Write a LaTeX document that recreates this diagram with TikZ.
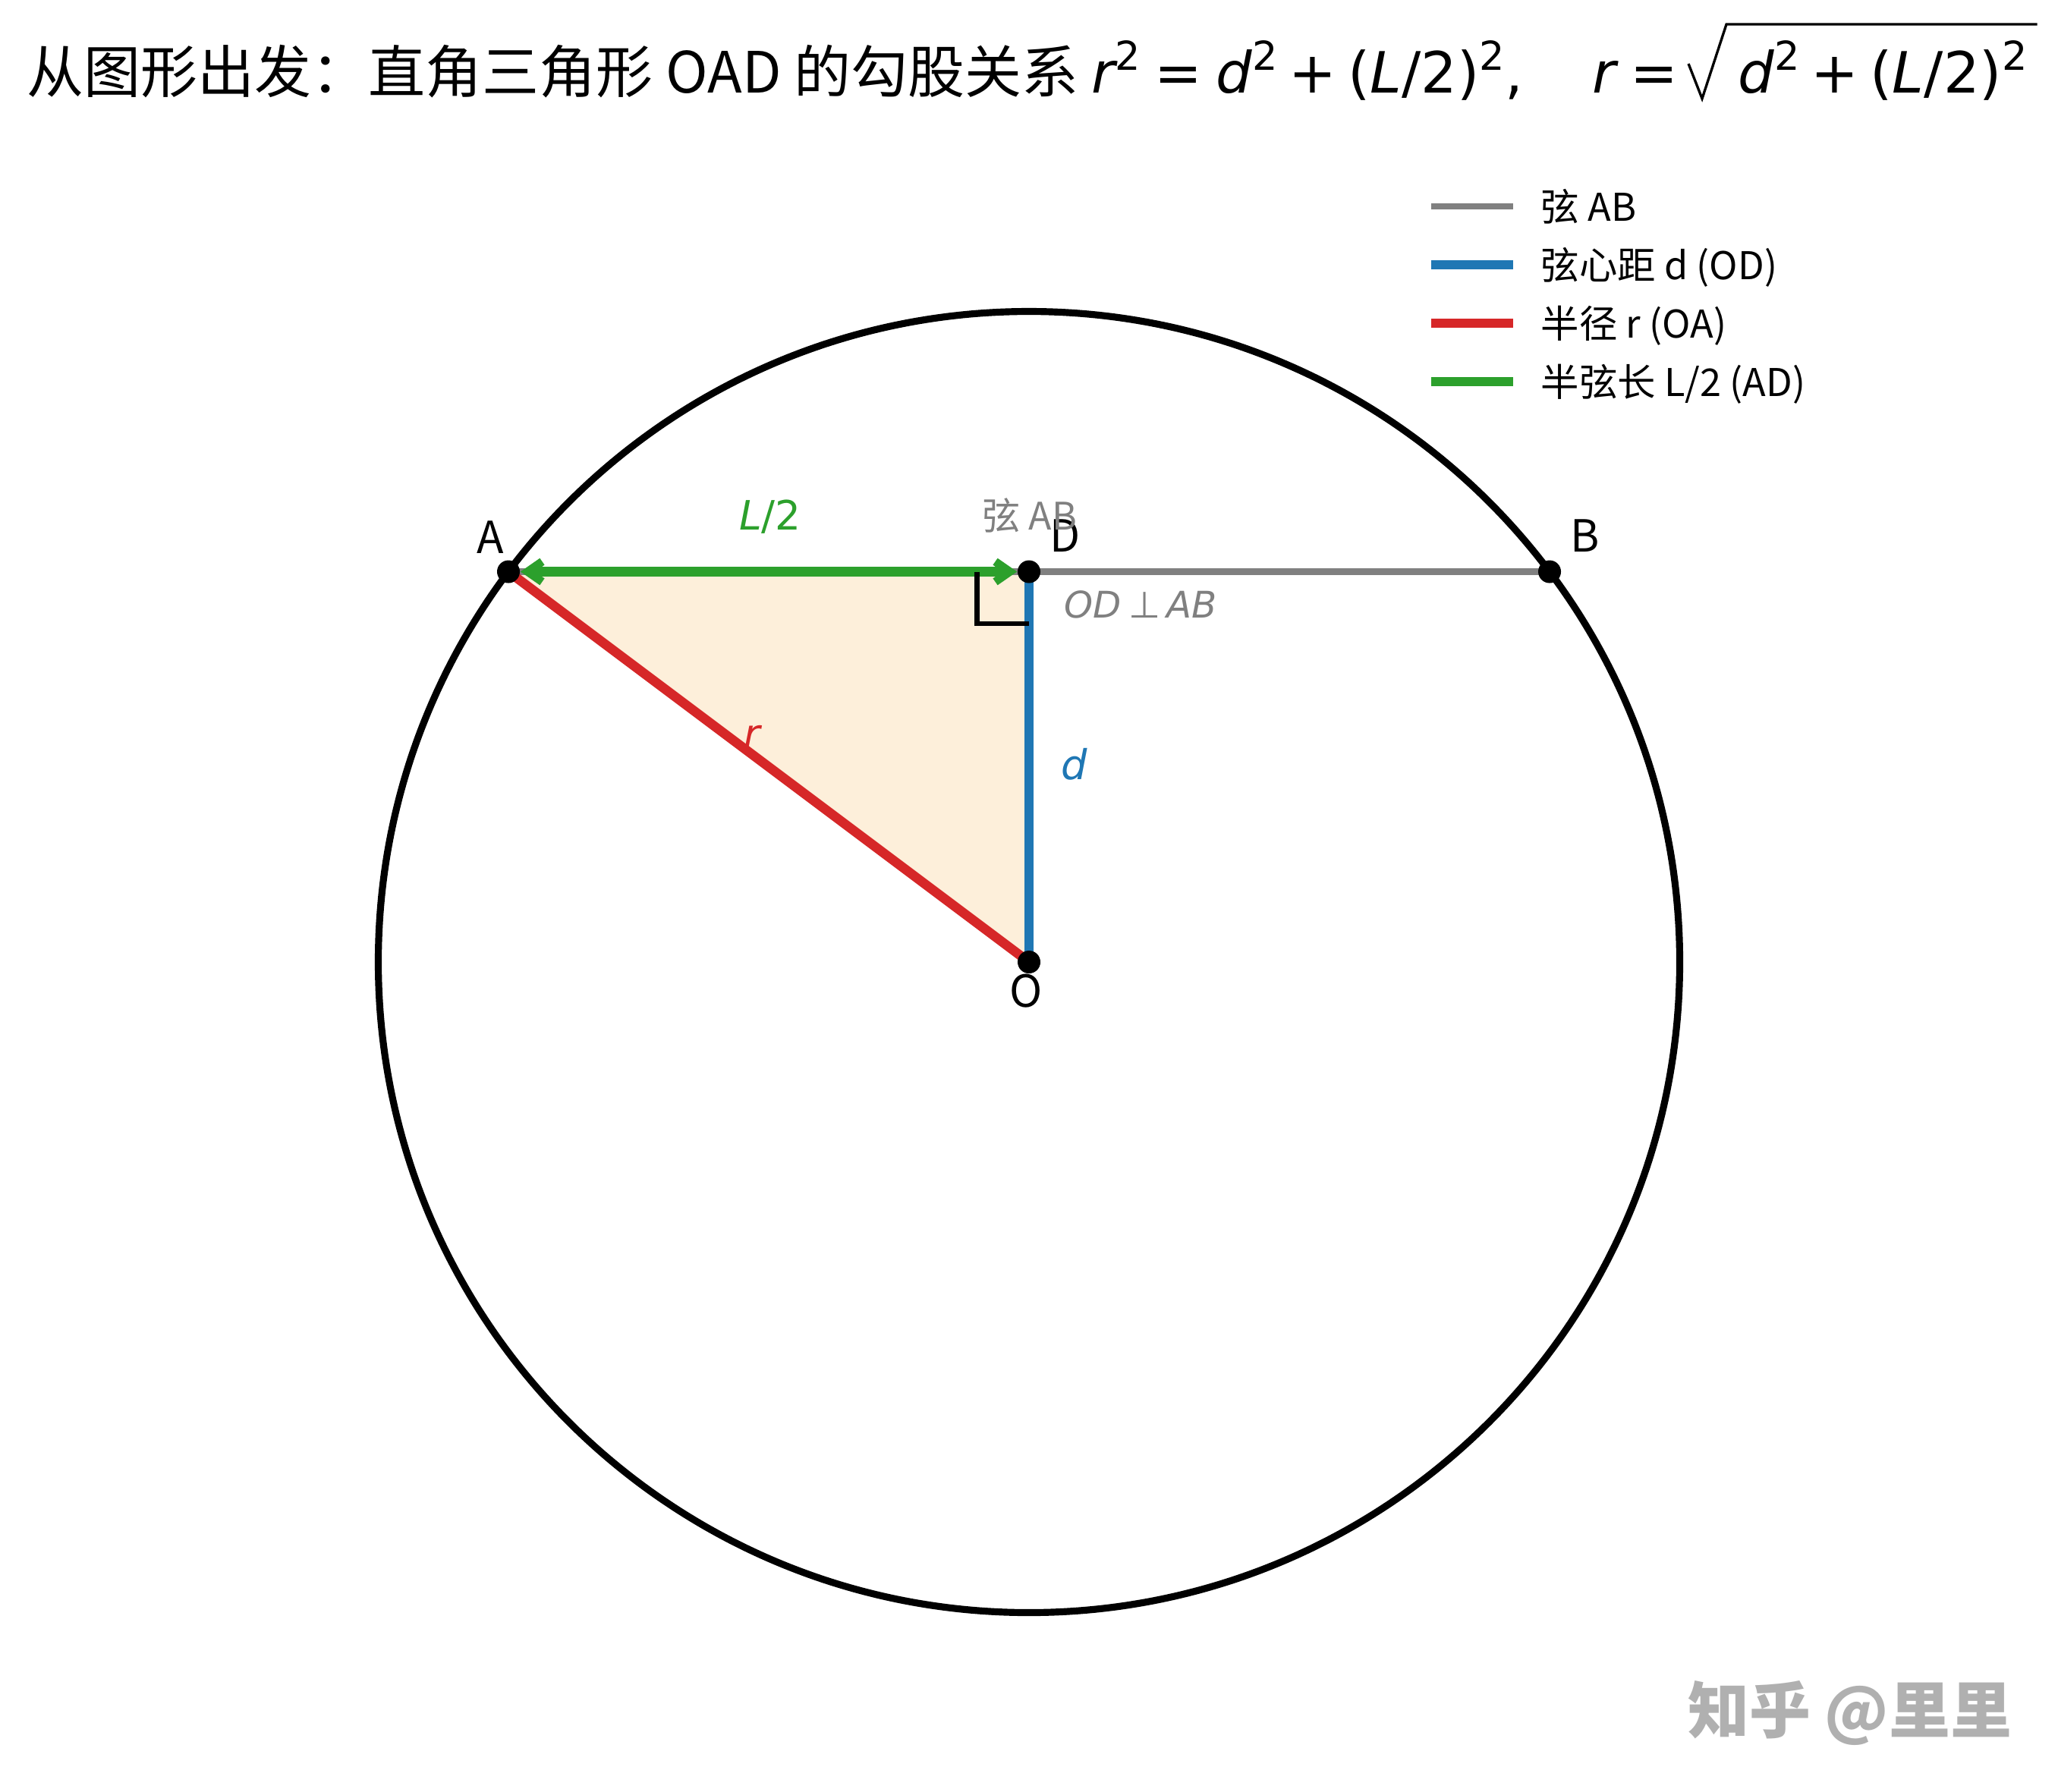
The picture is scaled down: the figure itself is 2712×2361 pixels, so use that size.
\documentclass[tikz,border=0pt]{standalone}
\usepackage{fontspec}
\setmainfont{Noto Sans CJK SC}
\newfontfamily\dvs{DejaVu Sans}
\usetikzlibrary{arrows.meta,calc}
\definecolor{tabblue}{HTML}{1F77B4}
\definecolor{tabred}{HTML}{D62728}
\definecolor{tabgreen}{HTML}{2CA02C}
\definecolor{mgray}{HTML}{808080}
\definecolor{trifill}{HTML}{FDEFDA}
\definecolor{wmgray}{HTML}{B0B0B0}
\newcommand\fsz[1]{\fontsize{#1}{#1}\selectfont}
\newcommand\mi[1]{{\dvs\itshape #1}}
\newcommand\mup[1]{{\dvs #1}}
\newcommand\sps[1]{\raisebox{0.4em}{\fontsize{12.6}{13}\selectfont\dvs #1}}
\pgfdeclarelayer{bg}
\pgfsetlayers{bg,main}
\tikzset{
  dot/.style={circle, fill=black, inner sep=0pt, minimum size=7.2pt},
  ttl/.style={anchor=base west, inner sep=0pt, font=\fsz{18}},
  lgtxt/.style={anchor=base west, inner sep=0pt, font=\fsz{12.1}},
  ptlbl/.style={anchor=base, inner sep=0pt, font=\fsz{14}},
  chord/.style={draw=mgray, line width=2pt},
  thk/.style={line width=3pt},
  gbarb/.tip={Straight Barb[length=4.6pt,width=6.4pt,line width=2.6pt]},
}
\begin{document}
\begin{tikzpicture}[x=0.24pt, y=-0.24pt]
\useasboundingbox (0,0) rectangle (2712,2361);

% title
\node[ttl] (t1) at (35,122) {从图形出发：直角三角形 OAD 的勾股关系 \mi{r}\sps{2}\hspace{0.25em}\mup{=}\hspace{0.25em}\mi{d}\sps{2}\hspace{0.2em}\mup{+}\hspace{0.2em}\mup{(}\mi{L}\mup{/2)}\sps{2}\mup{,}};
\node[ttl] (t2) at (2098,122) {\mi{r}\hspace{0.25em}\mup{=}};
\node[ttl] (t3) at (2290,122) {\mi{d}\sps{2}\hspace{0.2em}\mup{+}\hspace{0.2em}\mup{(}\mi{L}\mup{/2)}\sps{2}};
\coordinate (rt) at (2275,32);
\draw[line width=0.8pt, line join=miter] (2225,84) -- (2243,130) -- (rt) -- ([xshift=3pt]t3.east |- rt);

% points
\node[dot] (A) at (670,753.5) {};
\node[dot] (B) at (2042,753.5) {};
\node[dot] (D) at (1356,753.5) {};
\node[dot] (O) at (1356,1268) {};

\begin{pgfonlayer}{bg}
\fill[white] (0,0) rectangle (2712,2361);
\fill[trifill] (A.center) -- (D.center) -- (O.center) -- cycle;
\draw[line width=2.2pt] (O.center) circle[radius=857.5];
\draw[chord] (A.center) -- (B.center);
\draw[thk, tabblue] (O.center) -- (D.center);
\draw[thk, tabred] (O.center) -- (A.center);
\draw[thk, tabgreen, gbarb-gbarb] (A) -- (D);
\draw[line width=1.6pt] ($(D.center)+(-68.6,0)$) -- ++(0,68.6) -- ++(68.6,0);
\end{pgfonlayer}

% point labels
\node[ptlbl] (lA) at (646,729) {A};
\node[ptlbl] (lB) at (2089,727) {B};
\node[ptlbl] (lD) at (1404,727) {D};
\node[ptlbl] (lO) at (1352,1327) {O};

% annotations
\node[anchor=base, inner sep=0pt, font=\fsz{12}, text=mgray] (chl) at (1357,698) {弦 AB};
\node[anchor=base west, inner sep=0pt, font=\fsz{11.6}, text=mgray] (perp) at (1402,814) {\mi{OD}\hspace{0.2em}\mup{⊥}\hspace{0.15em}\mi{AB}};
\node[anchor=base, inner sep=0pt, font=\fsz{12.8}, text=tabgreen] (lL) at (1015,698) {\mi{L}\mup{/2}};
\node[anchor=base west, inner sep=0pt, font=\fsz{13}, text=tabblue] (ld) at (1398,1027) {\mi{d}};
\node[anchor=base west, inner sep=0pt, font=\fsz{12.5}, text=tabred] (lr) at (980,985) {\mi{r}};

% legend
\coordinate (g1a) at (1886,272); \coordinate (g1b) at (1994,272);
\coordinate (g2a) at (1886,349); \coordinate (g2b) at (1994,349);
\coordinate (g3a) at (1886,426); \coordinate (g3b) at (1994,426);
\coordinate (g4a) at (1886,503); \coordinate (g4b) at (1994,503);
\draw[chord] (g1a) -- (g1b);
\draw[thk, tabblue] (g2a) -- (g2b);
\draw[thk, tabred] (g3a) -- (g3b);
\draw[thk, tabgreen] (g4a) -- (g4b);
\node[lgtxt] (e1) at (2030,291) {弦 AB};
\node[lgtxt] (e2) at (2030,368) {弦心距 d (OD)};
\node[lgtxt] (e3) at (2030,445) {半径 r (OA)};
\node[lgtxt] (e4) at (2030,522) {半弦长 L/2 (AD)};

% watermark
\node[anchor=base west, inner sep=0pt, font=\fsz{19.4}\bfseries, text=wmgray] (wm) at (2224,2284) {知乎 @里里};
\end{tikzpicture}
\end{document}
